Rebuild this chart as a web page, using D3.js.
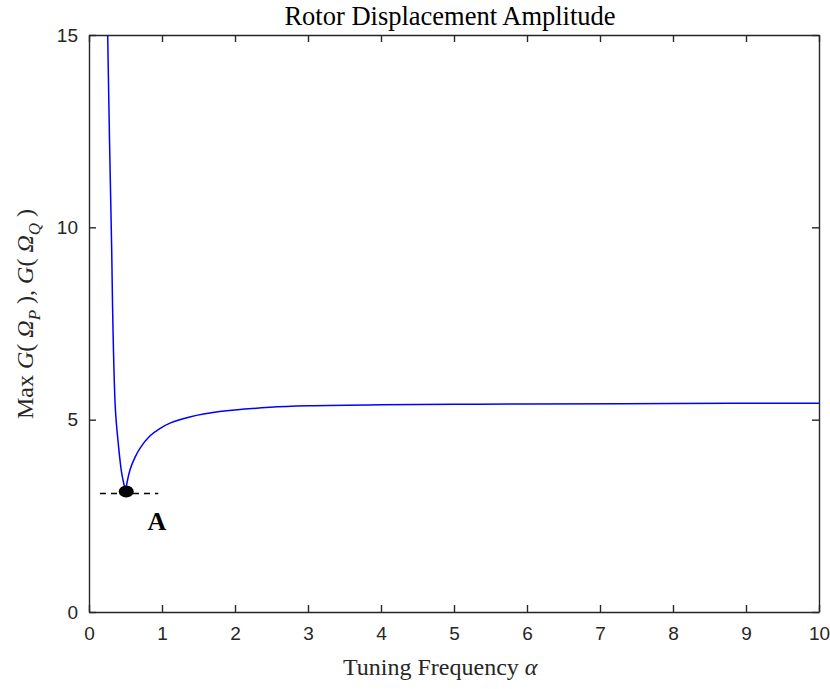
<!DOCTYPE html>
<html>
<head>
<meta charset="utf-8">
<script src="https://cdn.jsdelivr.net/npm/d3@7"></script>
<style>
  body { margin: 0; background: #fff; }
  svg { display: block; }
  .tick text { font-family: "Liberation Sans", Arial, sans-serif; font-size: 19px; fill: #262626; }
</style>
</head>
<body>
<div id="chart"></div>
<script>
// curve: tuning frequency alpha vs max amplitude
// left branch (G at Omega_P) down to the optimum, right branch back up
const alphaLeft = [0.256, 0.281, 0.311, 0.329, 0.362, 0.40, 0.448, 0.50];
const ampLeft = [15.0, 12.27, 9.41, 7.33, 5.25, 4.40, 3.61, 3.15];
const alphaRight = [0.50, 0.562, 0.63, 0.70, 0.836, 0.97, 1.11, 1.38, 1.79, 2.48, 3.0, 4.0, 5.0, 6.0, 8.0, 10.0];
const ampRight = [3.15, 3.70, 4.02, 4.26, 4.58, 4.77, 4.91, 5.07, 5.21, 5.32, 5.36, 5.39, 5.40, 5.41, 5.42, 5.43];

const pointA = { x: 0.51, y: 3.13 };
const dashX = [0.15, 0.95];

const xTicks = [0, 1, 2, 3, 4, 5, 6, 7, 8, 9, 10];
const yTicks = [0, 5, 10, 15];

const w = 830, h = 689;
const margin = { top: 35, right: 11, bottom: 77, left: 89 };

const svg = d3.select("#chart").append("svg")
  .attr("width", w)
  .attr("height", h);

const x = d3.scaleLinear().domain([0, 10]).range([margin.left, w - margin.right]);
const y = d3.scaleLinear().domain([0, 15]).range([h - margin.bottom, margin.top]);

const axisColor = "#262626";

// box axes with inward ticks
function styleAxis(g) {
  g.select(".domain").attr("stroke", axisColor).attr("stroke-width", 1.4);
  g.selectAll(".tick line").attr("stroke", axisColor).attr("stroke-width", 1.4);
}

svg.append("g")
  .attr("transform", `translate(0,${y(0)})`)
  .call(d3.axisBottom(x).tickValues(xTicks).tickSizeInner(-7).tickSizeOuter(0).tickPadding(15))
  .call(styleAxis);

svg.append("g")
  .attr("transform", `translate(0,${y(15)})`)
  .call(d3.axisTop(x).tickValues(xTicks).tickSizeInner(-7).tickSizeOuter(0).tickFormat(""))
  .call(styleAxis);

svg.append("g")
  .attr("transform", `translate(${x(0)},0)`)
  .call(d3.axisLeft(y).tickValues(yTicks).tickSizeInner(-7).tickSizeOuter(0).tickPadding(11))
  .call(styleAxis);

svg.append("g")
  .attr("transform", `translate(${x(10)},0)`)
  .call(d3.axisRight(y).tickValues(yTicks).tickSizeInner(-7).tickSizeOuter(0).tickFormat(""))
  .call(styleAxis);

// curve
const line = d3.line().x(d => x(d.a)).y(d => y(d.v)).curve(d3.curveCatmullRom.alpha(0.5));
const branches = [
  alphaLeft.map((a, i) => ({ a, v: ampLeft[i] })),
  alphaRight.map((a, i) => ({ a, v: ampRight[i] }))
];
svg.selectAll("path.curve")
  .data(branches)
  .join("path")
  .attr("class", "curve")
  .attr("fill", "none")
  .attr("stroke", "#0000ff")
  .attr("stroke-width", 1.5)
  .attr("stroke-linejoin", "round")
  .attr("d", line);

// dashed reference line and point A
svg.append("line")
  .attr("x1", x(dashX[0])).attr("x2", x(dashX[1]))
  .attr("y1", y(pointA.y - 0.05)).attr("y2", y(pointA.y - 0.05))
  .attr("stroke", "#000")
  .attr("stroke-width", 1.5)
  .attr("stroke-dasharray", "6,5");

svg.append("ellipse")
  .attr("cx", x(pointA.x))
  .attr("cy", y(pointA.y))
  .attr("rx", 7.5)
  .attr("ry", 6)
  .attr("fill", "#000");

svg.append("text")
  .attr("x", x(0.8))
  .attr("y", y(2.13))
  .attr("font-family", "Liberation Serif, Times New Roman, serif")
  .attr("font-weight", "bold")
  .attr("font-size", 26)
  .text("A");

// title
svg.append("text")
  .attr("x", 450)
  .attr("y", 25)
  .attr("text-anchor", "middle")
  .attr("font-family", "Liberation Serif, Times New Roman, serif")
  .attr("font-size", 26.5)
  .attr("fill", "#000")
  .text("Rotor Displacement Amplitude");

// x label
const xl = svg.append("text")
  .attr("x", 343)
  .attr("y", 675)
  .attr("font-family", "Liberation Serif, Times New Roman, serif")
  .attr("font-size", 24)
  .attr("fill", "#262626");
xl.append("tspan").text("Tuning Frequency ");
xl.append("tspan").attr("font-style", "italic").text("α");

// y label
const yl = svg.append("text")
  .attr("transform", `translate(33,314) rotate(-90)`)
  .attr("text-anchor", "middle")
  .attr("font-family", "Liberation Serif, Times New Roman, serif")
  .attr("font-size", 24)
  .attr("fill", "#262626");
yl.append("tspan").text("Max ");
yl.append("tspan").attr("font-style", "italic").text("G");
yl.append("tspan").text("( ");
yl.append("tspan").attr("font-style", "italic").text("Ω");
yl.append("tspan").attr("font-style", "italic").attr("font-size", 17).attr("dy", 7).text("P");
yl.append("tspan").attr("dy", -7).text(" ), ");
yl.append("tspan").attr("font-style", "italic").text("G");
yl.append("tspan").text("( ");
yl.append("tspan").attr("font-style", "italic").text("Ω");
yl.append("tspan").attr("font-style", "italic").attr("font-size", 17).attr("dy", 7).text("Q");
yl.append("tspan").attr("dy", -7).text(" )");
</script>
</body>
</html>
